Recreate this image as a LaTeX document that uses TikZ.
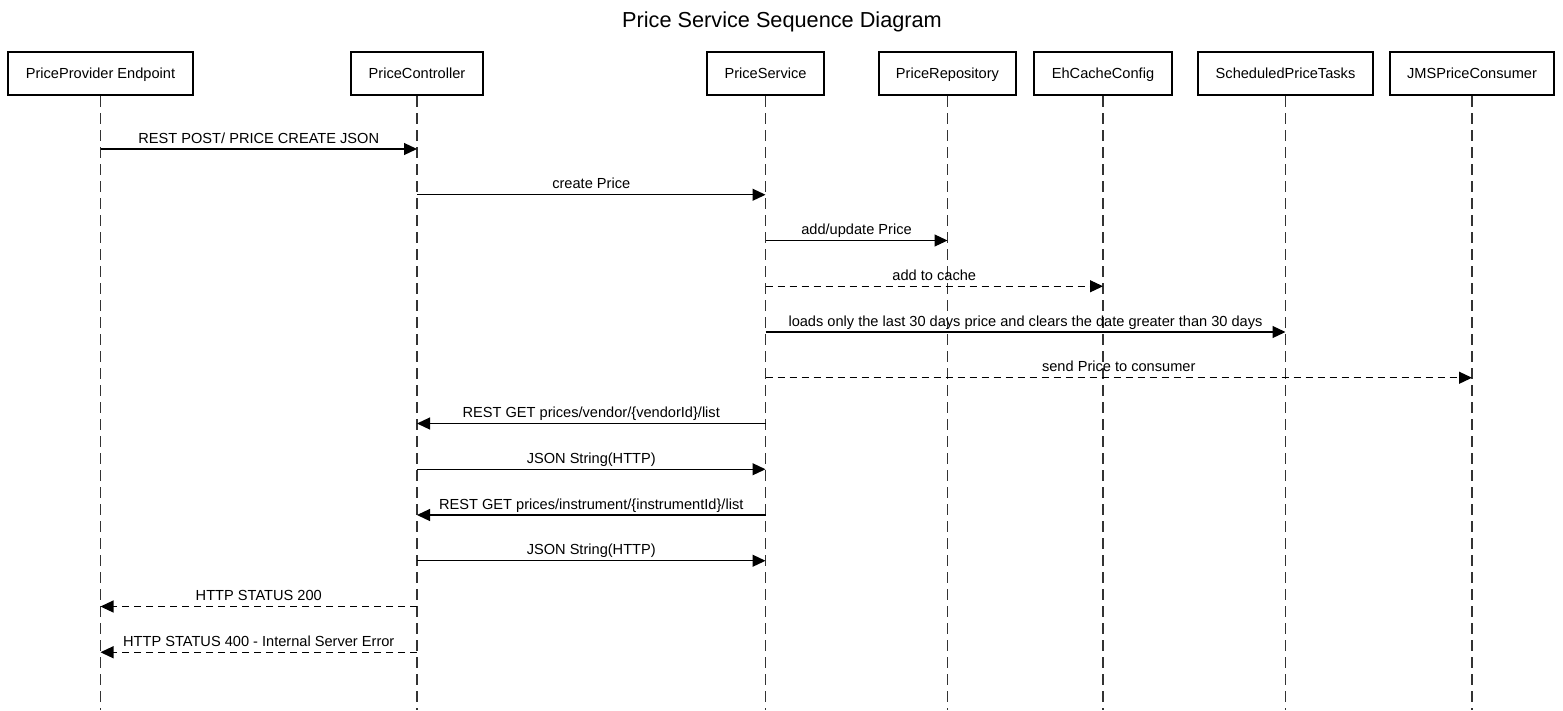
\documentclass[tikz,border=0pt]{standalone}
\usepackage{fontspec}
\setmainfont{Liberation Sans}
\usetikzlibrary{arrows.meta,calc}

\tikzset{
  actor/.style={draw, rectangle, line width=2.2pt, minimum height=43pt, text height=10.5pt, text depth=0pt, inner sep=0pt},
  lifeline/.style={draw=black!80, line width=1.2pt, dash pattern=on 11pt off 6pt},
  msg/.style={-{Triangle[length=13pt,width=12pt]}, line width=1.2pt},
  reply/.style={msg, dash pattern=on 7pt off 5pt},
  msglabel/.style={anchor=base, yshift=6pt, inner sep=0pt}
}

\begin{document}
\begin{tikzpicture}[x=1pt, y=-1pt, font=\fontsize{14.6}{17}\selectfont]
    \useasboundingbox (0,0) rectangle (1563,710);
    \coordinate (bottom) at (0,710);

    % Title
    \node[anchor=base, font=\fontsize{21.7}{26}\selectfont] (title) at (782,27.5) {Price Service Sequence Diagram};

    % Participants
    \node[actor, minimum width=185pt] (ppe) at (100.5,73.5) {PriceProvider Endpoint};
    \node[actor, minimum width=132pt] (pc) at (417,73.5) {PriceController};
    \node[actor, minimum width=117pt] (ps) at (765.5,73.5) {PriceService};
    \node[actor, minimum width=137pt] (pr) at (947.5,73.5) {PriceRepository};
    \node[actor, minimum width=138pt] (ehc) at (1103,73.5) {EhCacheConfig};
    \node[actor, minimum width=175pt] (spt) at (1285.5,73.5) {ScheduledPriceTasks};
    \node[actor, minimum width=164pt] (jms) at (1472,73.5) {JMSPriceConsumer};

    % Lifelines
    \draw[lifeline] (ppe.south) -- (ppe.south |- bottom);
    \draw[lifeline] (pc.south) -- (pc.south |- bottom);
    \draw[lifeline] (ps.south) -- (ps.south |- bottom);
    \draw[lifeline] (pr.south) -- (pr.south |- bottom);
    \draw[lifeline] (ehc.south) -- (ehc.south |- bottom);
    \draw[lifeline] (spt.south) -- (spt.south |- bottom);
    \draw[lifeline] (jms.south) -- (jms.south |- bottom);

    % Messages
    \draw[msg] (ppe |- 0,149) -- node[msglabel] {REST POST/ PRICE CREATE JSON} (pc |- 0,149);
    \draw[msg] (pc |- 0,194.75) -- node[msglabel] {create Price} (ps |- 0,194.75);
    \draw[msg] (ps |- 0,240.5) -- node[msglabel] {add/update Price} (pr |- 0,240.5);
    \draw[reply] (ps |- 0,286.25) -- node[msglabel] {add to cache} (ehc |- 0,286.25);
    \draw[msg] (ps |- 0,332) -- node[msglabel] {loads only the last 30 days price and clears the date greater than 30 days} (spt |- 0,332);
    \draw[reply] (ps |- 0,377.75) -- node[msglabel] {send Price to consumer} (jms |- 0,377.75);
    \draw[msg] (ps |- 0,423.5) -- node[msglabel] {REST GET prices/vendor/\{vendorId\}/list} (pc |- 0,423.5);
    \draw[msg] (pc |- 0,469.25) -- node[msglabel] {JSON String(HTTP)} (ps |- 0,469.25);
    \draw[msg] (ps |- 0,515) -- node[msglabel] {REST GET prices/instrument/\{instrumentId\}/list} (pc |- 0,515);
    \draw[msg] (pc |- 0,560.75) -- node[msglabel] {JSON String(HTTP)} (ps |- 0,560.75);
    \draw[reply] (pc |- 0,606.5) -- node[msglabel] {HTTP STATUS 200} (ppe |- 0,606.5);
    \draw[reply] (pc |- 0,652.25) -- node[msglabel] {HTTP STATUS 400 - Internal Server Error} (ppe |- 0,652.25);
\end{tikzpicture}
\end{document}
